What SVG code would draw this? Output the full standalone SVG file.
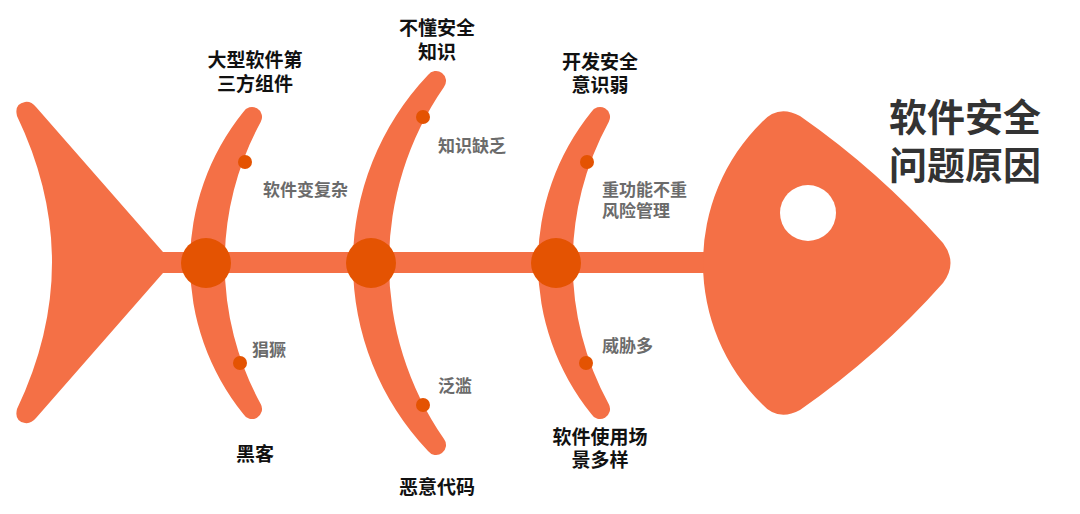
<svg xmlns="http://www.w3.org/2000/svg" width="1080" height="514" viewBox="0 0 1080 514">
<style>
.fish{fill:#F47046}
.joint{fill:#E45302}
.lbl{font-family:"Liberation Sans","Noto Sans CJK SC",sans-serif;font-weight:bold;font-size:19px;fill:#111;text-anchor:middle}
.sub{font-family:"Liberation Sans","Noto Sans CJK SC",sans-serif;font-weight:bold;font-size:17px;fill:#6b6b6b}
.title{font-family:"Liberation Sans","Noto Sans CJK SC",sans-serif;font-weight:bold;font-size:38px;fill:#333;text-anchor:middle}
</style>
<rect width="1080" height="514" fill="#fff"/>
<g id="connectors">
<rect class="fish" x="158" y="252" width="552" height="21"/>
</g>
<g id="tail">
<path class="fish" d="M 17 116 Q 14 104 25 102 Q 31 101 36 107 L 163 252 L 163 273 L 36 418 Q 31 424 25 423 Q 14 421 17 409 Q 87 262 17 116 Z"/>
</g>
<g id="head">
<path class="fish" d="M 762 122 Q 778 104 800 116 Q 879 171 943 243 Q 958 263 943 283 Q 879 355 800 410 Q 778 422 762 404 A 198 198 0 0 1 762 122 Z"/>
<circle cx="808" cy="213" r="28" fill="#fff"/>
<text class="title" x="965" y="131">软件安全<tspan x="965" y="179">问题原因</tspan></text>
</g>
<g id="rib1">
<path class="fish" d="M 243.3 112 A 240.5 240.5 0 0 0 243.3 414 A 10 10 0 0 0 260.7 404 A 294 294 0 0 1 260.7 122 A 10 10 0 0 0 243.3 112 Z"/>
<circle class="joint" cx="206" cy="263" r="25"/>
<circle class="joint" cx="245" cy="162" r="7"/>
<circle class="joint" cx="240" cy="363" r="7"/>
<text class="lbl" x="255" y="67">大型软件第<tspan x="255" y="91">三方组件</tspan></text>
<text class="sub" x="263" y="196">软件变复杂</text>
<text class="sub" x="252" y="356">猖獗</text>
<text class="lbl" x="255" y="461">黑客</text>
</g>
<g id="rib2">
<path class="fish" d="M 428 75 A 273 273 0 0 0 428 451 A 10 10 0 0 0 444 439 A 309 309 0 0 1 444 87 A 10 10 0 0 0 428 75 Z"/>
<circle class="joint" cx="371" cy="263" r="25"/>
<circle class="joint" cx="423" cy="117" r="7"/>
<circle class="joint" cx="423" cy="405" r="7"/>
<text class="lbl" x="437" y="35">不懂安全<tspan x="437" y="59">知识</tspan></text>
<text class="sub" x="438" y="152">知识缺乏</text>
<text class="sub" x="438" y="392">泛滥</text>
<text class="lbl" x="437" y="494">恶意代码</text>
</g>
<g id="rib3">
<path class="fish" d="M 591.3 112 A 240.5 240.5 0 0 0 591.3 414 A 10 10 0 0 0 608.7 404 A 294 294 0 0 1 608.7 122 A 10 10 0 0 0 591.3 112 Z"/>
<circle class="joint" cx="556" cy="263" r="25"/>
<circle class="joint" cx="587" cy="162" r="7"/>
<circle class="joint" cx="586" cy="363" r="7"/>
<text class="lbl" x="600" y="69">开发安全<tspan x="600" y="92">意识弱</tspan></text>
<text class="sub" x="602" y="196">重功能不重<tspan x="602" y="217">风险管理</tspan></text>
<text class="sub" x="602" y="352">威胁多</text>
<text class="lbl" x="600" y="444">软件使用场<tspan x="600" y="467">景多样</tspan></text>
</g>
</svg>
